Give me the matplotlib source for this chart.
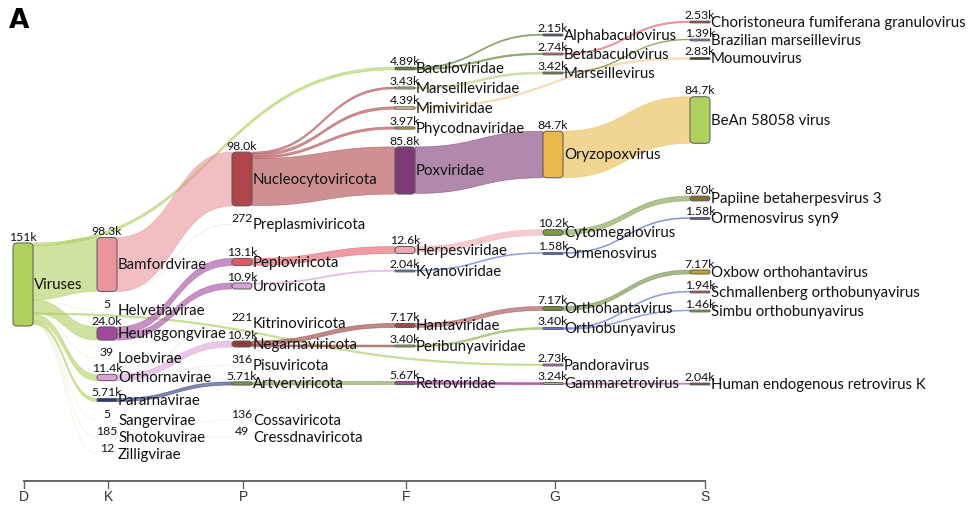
import numpy as np
import matplotlib.pyplot as plt
from matplotlib.patches import FancyBboxPatch, Polygon

plt.rcParams['font.family'] = ['Lato', 'DejaVu Sans']

# Datos: nodos (nombre, rango, lecturas)
node_names = ['Viruses',
              'Bamfordvirae', 'Helvetiavirae', 'Heunggongvirae', 'Loebvirae', 'Orthornavirae',
              'Pararnavirae', 'Sangervirae', 'Shotokuvirae', 'Zilligvirae',
              'Nucleocytoviricota', 'Preplasmiviricota', 'Peploviricota', 'Uroviricota',
              'Kitrinoviricota', 'Negarnaviricota', 'Pisuviricota', 'Artverviricota',
              'Cossaviricota', 'Cressdnaviricota',
              'Baculoviridae', 'Marseilleviridae', 'Mimiviridae', 'Phycodnaviridae', 'Poxviridae',
              'Herpesviridae', 'Kyanoviridae', 'Hantaviridae', 'Peribunyaviridae', 'Retroviridae',
              'Alphabaculovirus', 'Betabaculovirus', 'Marseillevirus', 'Oryzopoxvirus',
              'Cytomegalovirus', 'Ormenosvirus', 'Orthohantavirus', 'Orthobunyavirus',
              'Pandoravirus', 'Gammaretrovirus',
              'Choristoneura fumiferana granulovirus', 'Brazilian marseillevirus', 'Moumouvirus',
              'BeAn 58058 virus', 'Papiine betaherpesvirus 3', 'Ormenosvirus syn9',
              'Oxbow orthohantavirus', 'Schmallenberg orthobunyavirus', 'Simbu orthobunyavirus',
              'Human endogenous retrovirus K']
node_rank = [0] + [1] * 9 + [2] * 10 + [3] * 10 + [4] * 10 + [5] * 10
node_vals = [151000,
             98300, 5, 24000, 39, 11400, 5710, 5, 185, 12,
             98000, 272, 13100, 10900, 221, 10900, 316, 5710, 136, 49,
             4890, 3430, 4390, 3970, 85800, 12600, 2040, 7170, 3400, 5670,
             2150, 2740, 3420, 84700, 10200, 1580, 7170, 3400, 2730, 3240,
             2530, 1390, 2830, 84700, 8700, 1580, 7170, 1940, 1460, 2040]

# Enlaces (origen, destino, lecturas)
links = [('Viruses', 'Baculoviridae', 4890), ('Viruses', 'Bamfordvirae', 98300),
         ('Viruses', 'Helvetiavirae', 5), ('Viruses', 'Heunggongvirae', 24000),
         ('Viruses', 'Loebvirae', 39), ('Viruses', 'Pandoravirus', 2730),
         ('Viruses', 'Orthornavirae', 11400), ('Viruses', 'Pararnavirae', 5710),
         ('Viruses', 'Sangervirae', 5), ('Viruses', 'Shotokuvirae', 185),
         ('Viruses', 'Zilligvirae', 12),
         ('Bamfordvirae', 'Nucleocytoviricota', 98000), ('Bamfordvirae', 'Preplasmiviricota', 272),
         ('Heunggongvirae', 'Peploviricota', 13100), ('Heunggongvirae', 'Uroviricota', 10900),
         ('Orthornavirae', 'Kitrinoviricota', 221), ('Orthornavirae', 'Negarnaviricota', 10900),
         ('Orthornavirae', 'Pisuviricota', 316), ('Pararnavirae', 'Artverviricota', 5710),
         ('Shotokuvirae', 'Cossaviricota', 136), ('Shotokuvirae', 'Cressdnaviricota', 49),
         ('Nucleocytoviricota', 'Marseilleviridae', 3430), ('Nucleocytoviricota', 'Mimiviridae', 4390),
         ('Nucleocytoviricota', 'Phycodnaviridae', 3970), ('Nucleocytoviricota', 'Poxviridae', 85800),
         ('Peploviricota', 'Herpesviridae', 12600), ('Uroviricota', 'Kyanoviridae', 2040),
         ('Negarnaviricota', 'Hantaviridae', 7170), ('Negarnaviricota', 'Peribunyaviridae', 3400),
         ('Artverviricota', 'Retroviridae', 5670),
         ('Baculoviridae', 'Alphabaculovirus', 2150), ('Baculoviridae', 'Betabaculovirus', 2740),
         ('Marseilleviridae', 'Marseillevirus', 3420), ('Mimiviridae', 'Moumouvirus', 2830),
         ('Poxviridae', 'Oryzopoxvirus', 84700), ('Herpesviridae', 'Cytomegalovirus', 10200),
         ('Kyanoviridae', 'Ormenosvirus', 1580), ('Hantaviridae', 'Orthohantavirus', 7170),
         ('Peribunyaviridae', 'Orthobunyavirus', 3400), ('Retroviridae', 'Gammaretrovirus', 3240),
         ('Retroviridae', 'Human endogenous retrovirus K', 2040),
         ('Betabaculovirus', 'Choristoneura fumiferana granulovirus', 2530),
         ('Marseillevirus', 'Brazilian marseillevirus', 1390),
         ('Oryzopoxvirus', 'BeAn 58058 virus', 84700),
         ('Cytomegalovirus', 'Papiine betaherpesvirus 3', 8700),
         ('Ormenosvirus', 'Ormenosvirus syn9', 1580),
         ('Orthohantavirus', 'Oxbow orthohantavirus', 7170),
         ('Orthobunyavirus', 'Schmallenberg orthobunyavirus', 1940),
         ('Orthobunyavirus', 'Simbu orthobunyavirus', 1460)]

rank_labels = ['D', 'K', 'P', 'F', 'G', 'S']

# Disposición (px): centro vertical de cada nodo
node_cy = [284.5,
           264.5, 310, 333.5, 358, 377.5, 400, 420, 437, 454,
           179, 224, 262, 286, 323, 344, 365, 383.5, 420, 437,
           68.5, 88, 108, 128, 170.5, 250, 271, 325.5, 346, 383,
           35, 54, 73, 154.5, 232.5, 253.5, 308.5, 328.5, 365, 383.5,
           22, 40, 58.5, 120, 198.5, 218.5, 272, 292, 311, 384]
col_x = [23, 107, 242, 405, 553, 700]
tick_x = [24, 108, 243, 406, 555, 705]
scale = 0.55 / 1000
node_w = 20

colors = {
    'Viruses': '#afd05f', 'Bamfordvirae': '#e8949a', 'Heunggongvirae': '#a04a9c',
    'Orthornavirae': '#dba2d8', 'Pararnavirae': '#2c3585',
    'Nucleocytoviricota': '#b0464c', 'Preplasmiviricota': '#e8949a', 'Peploviricota': '#e05a66',
    'Uroviricota': '#d8a2da', 'Negarnaviricota': '#913a35', 'Artverviricota': '#7d9c3e',
    'Baculoviridae': '#5e7c32', 'Marseilleviridae': '#b8d080', 'Mimiviridae': '#f2cc90',
    'Phycodnaviridae': '#c4a030', 'Poxviridae': '#7c3a76', 'Herpesviridae': '#f0a8b0',
    'Kyanoviridae': '#6a78d4', 'Hantaviridae': '#a0484a', 'Peribunyaviridae': '#8fb04a',
    'Retroviridae': '#b0449c',
    'Alphabaculovirus': '#2c3585', 'Betabaculovirus': '#e0606e', 'Marseillevirus': '#6e8a3c',
    'Oryzopoxvirus': '#e9b94c', 'Cytomegalovirus': '#7d9c48', 'Ormenosvirus': '#5a6ad0',
    'Orthohantavirus': '#6e8a3c', 'Orthobunyavirus': '#6a78d4', 'Pandoravirus': '#d060c4',
    'Gammaretrovirus': '#b8d080',
    'Choristoneura fumiferana granulovirus': '#c03040', 'Brazilian marseillevirus': '#a070c0',
    'Moumouvirus': '#5a3a10', 'BeAn 58058 virus': '#b0d060', 'Papiine betaherpesvirus 3': '#8a6a2a',
    'Ormenosvirus syn9': '#8050a0', 'Oxbow orthohantavirus': '#c8a030',
    'Schmallenberg orthobunyavirus': '#e04050', 'Simbu orthobunyavirus': '#8ab040',
    'Human endogenous retrovirus K': '#6a4a20',
}


def fmt(v):
    if v < 1000:
        return str(v)
    x = v / 1000
    if x >= 100:
        return f'{x:.0f}k'
    if x >= 10:
        return f'{x:.1f}k'
    return f'{x:.2f}k'


idx = {n: i for i, n in enumerate(node_names)}
shown = [v >= 1000 for v in node_vals]
heights = [max(v * scale, 1.8) if s else v * scale for v, s in zip(node_vals, shown)]
tops = [cy - h / 2 if s else cy for cy, h, s in zip(node_cy, heights, shown)]

# Offsets de los enlaces dentro de cada nodo
out_off = {}
in_off = {}
for n in node_names:
    outs = sorted([l for l in links if l[0] == n], key=lambda l: node_cy[idx[l[1]]])
    y = tops[idx[n]]
    for l in outs:
        out_off[l] = y
        y += l[2] * scale
    ins = sorted([l for l in links if l[1] == n], key=lambda l: node_cy[idx[l[0]]])
    y = tops[idx[n]]
    for l in ins:
        in_off[l] = y
        y += l[2] * scale

fig = plt.figure(figsize=(9.72, 5.08), dpi=100)
ax = fig.add_axes([0, 0, 1, 1])
ax.set_xlim(0, 972)
ax.set_ylim(508, 0)
ax.axis('off')

t = np.linspace(0, 1, 60)
for l in links:
    s, d, v = idx[l[0]], idx[l[1]], l[2]
    x0 = col_x[node_rank[s]] + node_w / 2
    x1 = col_x[node_rank[d]] - node_w / 2
    xm = (x0 + x1) / 2
    w = v * scale
    y0, y1 = out_off[l], in_off[l]
    bx = (1 - t) ** 3 * x0 + 3 * (1 - t) ** 2 * t * xm + 3 * (1 - t) * t ** 2 * xm + t ** 3 * x1
    by = lambda a, b: (1 - t) ** 3 * a + 3 * (1 - t) ** 2 * t * a + 3 * (1 - t) * t ** 2 * b + t ** 3 * b
    top_y = by(y0, y1)
    bot_y = by(y0 + w, y1 + w)
    pts = np.vstack([np.column_stack([bx, top_y]), np.column_stack([bx[::-1], bot_y[::-1]])])
    c = colors.get(l[0], '#cccccc')
    ax.add_patch(Polygon(pts, closed=True, facecolor=c, edgecolor=c, lw=0.5,
                         alpha=0.6 if v >= 1000 else 0.15, zorder=1))

for i, n in enumerate(node_names):
    cx = col_x[node_rank[i]]
    if shown[i]:
        h = heights[i]
        r = min(4, h / 2)
        ax.add_patch(FancyBboxPatch((cx - node_w / 2, tops[i]), node_w, h,
                                    boxstyle=f'round,pad=0,rounding_size={r}',
                                    facecolor=colors.get(n, '#999999'), edgecolor='#5a5a5a',
                                    lw=0.7, zorder=3))
    ax.text(cx, tops[i] - 0.3, fmt(node_vals[i]), ha='center', va='bottom',
            fontsize=8.8, color='#111111', zorder=4)
    ax.text(cx + node_w / 2 + 1, node_cy[i] + 0.8, n, ha='left', va='center',
            fontsize=10.8, color='#111111', zorder=4)

# Eje de rangos
ax.plot([tick_x[0], tick_x[-1]], [481, 481], color='#666666', lw=1.4, zorder=2)
for x, lab in zip(tick_x, rank_labels):
    ax.plot([x, x], [481, 488], color='#666666', lw=1, zorder=2)
    ax.text(x, 497, lab, ha='center', va='center', fontsize=10, color='#333333',
            family=['Liberation Sans Narrow', 'Liberation Sans', 'DejaVu Sans'])

ax.text(9, 28, 'A', fontsize=19, fontweight='bold', family='DejaVu Sans',
        ha='left', va='baseline')

fig.savefig('out.png', dpi=100)
plt.close()
